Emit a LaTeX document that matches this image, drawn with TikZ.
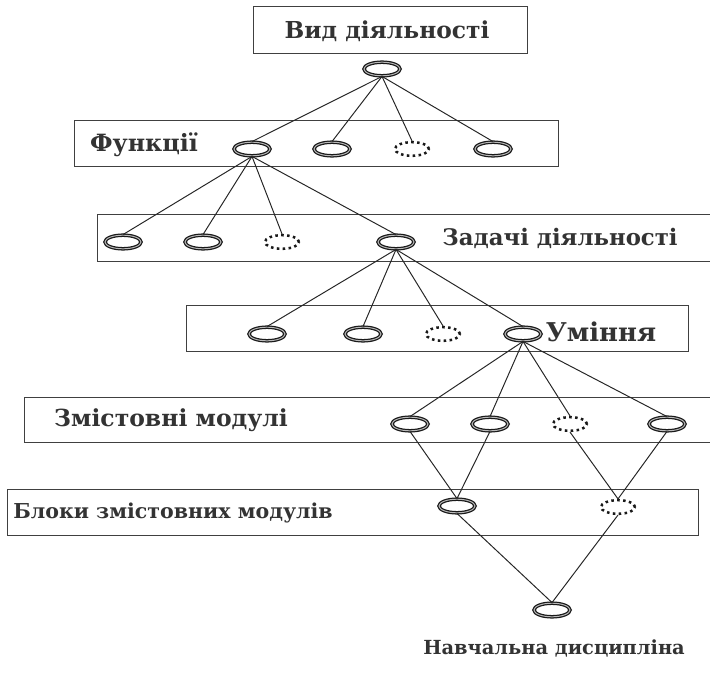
\documentclass[tikz,border=0pt]{standalone}
\usepackage{fontspec}
\setmainfont{DejaVu Serif}
\usetikzlibrary{shapes.geometric}
\tikzset{
  bandBox/.style={draw=black!75, line width=0.6pt},
  labelText/.style={inner sep=0pt, text=black!80},
  % --- VUZLY ---
  leafNode/.style={ellipse, draw=black!90, line width=0.9pt, double=gray!55,
    double distance=0.7pt, fill=white, minimum width=0.9cm, minimum height=0.34cm, inner sep=0pt},
  leafGhost/.style={ellipse, draw=black!90, line width=1.8pt, dash pattern=on 1.8pt off 2.4pt,
    minimum width=0.85cm, minimum height=0.34cm, inner sep=0pt},
  linkLine/.style={draw=black!85, line width=0.7pt}
}

\begin{document}
\begin{tikzpicture}[x=0.025cm, y=-0.025cm]
  \useasboundingbox (0,0) rectangle (710,675);

  %% --- SMUHY (RAMKY) ---
  \draw[bandBox] (253,6) rectangle (527,53);
  \draw[bandBox] (74,120) rectangle (558,166);
  \draw[bandBox] (97,214) rectangle (716,261);
  \draw[bandBox] (186,305) rectangle (688,351);
  \draw[bandBox] (24,397) rectangle (716,442);
  \draw[bandBox] (7,489) rectangle (698,535);

  %% --- PIDPYSY ---
  \node[labelText, font=\bfseries\fontsize{16.6}{20}\selectfont] (tVid) at (387,31) {Вид діяльності};
  \node[labelText, font=\bfseries\fontsize{16.9}{20}\selectfont] (tFunk) at (144,145) {Функції};
  \node[labelText, font=\bfseries\fontsize{16.2}{20}\selectfont] (tZad) at (560,238) {Задачі діяльності};
  \node[labelText, font=\bfseries\fontsize{18.4}{22}\selectfont] (tUmin) at (601,332) {Уміння};
  \node[labelText, font=\bfseries\fontsize{16.7}{20}\selectfont] (tZmist) at (171,420) {Змістовні модулі};
  \node[labelText, font=\bfseries\fontsize{14.6}{18}\selectfont] (tBlok) at (173,513) {Блоки змістовних модулів};
  \node[labelText, font=\bfseries\fontsize{13.8}{17}\selectfont] (tDysc) at (554,648) {Навчальна дисципліна};

  %% --- VUZLY ---
  \node[leafNode] (root) at (382,69) {};
  % Funkcii
  \foreach \x/\n in {252/f1, 332/f2, 493/f4}
    \node[leafNode] (\n) at (\x,149) {};
  \node[leafGhost] (f3) at (412,149) {};
  % Zadachi
  \foreach \x/\n in {123/z1, 203/z2, 396/z4}
    \node[leafNode] (\n) at (\x,242) {};
  \node[leafGhost] (z3) at (282,242) {};
  % Uminnia
  \foreach \x/\n in {267/u1, 363/u2, 523/u4}
    \node[leafNode] (\n) at (\x,334) {};
  \node[leafGhost] (u3) at (443,334) {};
  % Zmistovni moduli
  \foreach \x/\n in {410/m1, 490/m2, 667/m4}
    \node[leafNode] (\n) at (\x,424) {};
  \node[leafGhost] (m3) at (570,424) {};
  % Bloky
  \node[leafNode] (b1) at (457,506) {};
  \node[leafGhost] (b2) at (618,507) {};
  % Dyscyplina
  \node[leafNode] (disc) at (552,610) {};

  %% --- ZVIAZKY ---
  \foreach \n in {f1, f2, f3, f4}
    \draw[linkLine] (root.south) -- (\n.north);
  \foreach \n in {z1, z2, z3, z4}
    \draw[linkLine] (f1.south) -- (\n.north);
  \foreach \n in {u1, u2, u3, u4}
    \draw[linkLine] (z4.south) -- (\n.north);
  \foreach \n in {m1, m2, m3, m4}
    \draw[linkLine] (u4.south) -- (\n.north);
  \draw[linkLine] (m1.south) -- (b1.north);
  \draw[linkLine] (m2.south) -- (b1.north);
  \draw[linkLine] (m3.south) -- (b2.north);
  \draw[linkLine] (m4.south) -- (b2.north);
  \draw[linkLine] (b1.south) -- (disc.north);
  \draw[linkLine] (b2.south) -- (disc.north);

\end{tikzpicture}
\end{document}
